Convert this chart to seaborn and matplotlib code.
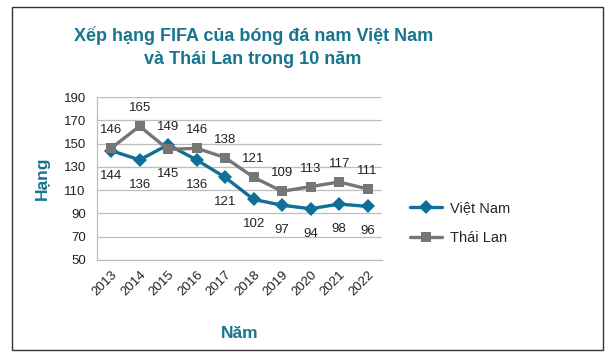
import pandas as pd
import numpy as np
import matplotlib.pyplot as plt
import seaborn as sns
from matplotlib.patches import Rectangle
from matplotlib.lines import Line2D

years = [2013, 2014, 2015, 2016, 2017, 2018, 2019, 2020, 2021, 2022]
viet_nam = [144, 136, 149, 136, 121, 102, 97, 94, 98, 96]
thai_lan = [146, 165, 145, 146, 138, 121, 109, 113, 117, 111]
# label above (+1) or below (-1) each point
vn_pos = [-1, -1, 1, -1, -1, -1, -1, -1, -1, -1]
th_pos = [1, 1, -1, 1, 1, 1, 1, 1, 1, 1]

df = pd.DataFrame({
    'Năm': years * 2,
    'Hạng': viet_nam + thai_lan,
    'Đội': ['Việt Nam'] * 10 + ['Thái Lan'] * 10,
})

sns.set_style('white')
plt.rcParams['font.family'] = ['Liberation Sans', 'DejaVu Sans']

teal = '#0f6f96'
gray = '#767676'
title_col = '#17758f'

fig = plt.figure(figsize=(6.13, 3.57), dpi=100)
ax = fig.add_axes([0.158, 0.272, 0.465, 0.456])

sns.lineplot(data=df, x='Năm', y='Hạng', hue='Đội', style='Đội',
             palette={'Việt Nam': teal, 'Thái Lan': gray},
             markers={'Việt Nam': 'D', 'Thái Lan': 's'},
             dashes=False, linewidth=2.4, markersize=7.5,
             markeredgewidth=0, ax=ax, legend=False)

for y, v, p in zip(years, viet_nam, vn_pos):
    ax.annotate(str(v), (y, v), xytext=(0, 13 if p > 0 else -18),
                textcoords='offset points', ha='center', va='center',
                fontsize=9.5, color='#222222')
for y, v, p in zip(years, thai_lan, th_pos):
    ax.annotate(str(v), (y, v), xytext=(0, 13 if p > 0 else -18),
                textcoords='offset points', ha='center', va='center',
                fontsize=9.5, color='#222222')

ax.set_xlim(2012.5, 2022.5)
ax.set_ylim(50, 190)
ax.set_yticks(np.arange(50, 191, 20))
ax.set_xticks(years)
ax.set_xticklabels([str(y) for y in years], rotation=45, ha='right',
                   rotation_mode='anchor')
ax.tick_params(axis='both', labelsize=9.5, colors='#222222', length=3,
               color='#a0a0a0')
ax.tick_params(axis='y', length=0, pad=8)
ax.yaxis.grid(True, color='#bdbdbd', linewidth=0.9)
for s in ['top', 'right']:
    ax.spines[s].set_visible(False)
for s in ['left', 'bottom']:
    ax.spines[s].set_color('#bdbdbd')
    ax.spines[s].set_linewidth(0.9)
ax.set_xlabel('Năm', fontsize=12.5, fontweight='bold', color=title_col, labelpad=20)
ax.set_ylabel('Hạng', fontsize=12.5, fontweight='bold', color=title_col, labelpad=10)

# legend
handles = [Line2D([], [], color=teal, marker='D', markersize=7.5, linewidth=2.4,
                  markeredgewidth=0),
           Line2D([], [], color=gray, marker='s', markersize=7.5, linewidth=2.4,
                  markeredgewidth=0)]
fig.legend(handles, ['Việt Nam', 'Thái Lan'], loc='center left',
           bbox_to_anchor=(0.648, 0.375), frameon=False, fontsize=10.5,
           handlelength=2.2, labelspacing=1.1, handletextpad=0.5)

fig.text(0.413, 0.868, 'Xếp hạng FIFA của bóng đá nam Việt Nam\nvà Thái Lan trong 10 năm',
         ha='center', va='center', fontsize=13, fontweight='bold',
         color=title_col, linespacing=1.5)

fig.patches.append(Rectangle((0.02, 0.02), 0.963, 0.96, transform=fig.transFigure,
                             fill=False, edgecolor='#333333', linewidth=1))

fig.savefig('out.png', dpi=100)
